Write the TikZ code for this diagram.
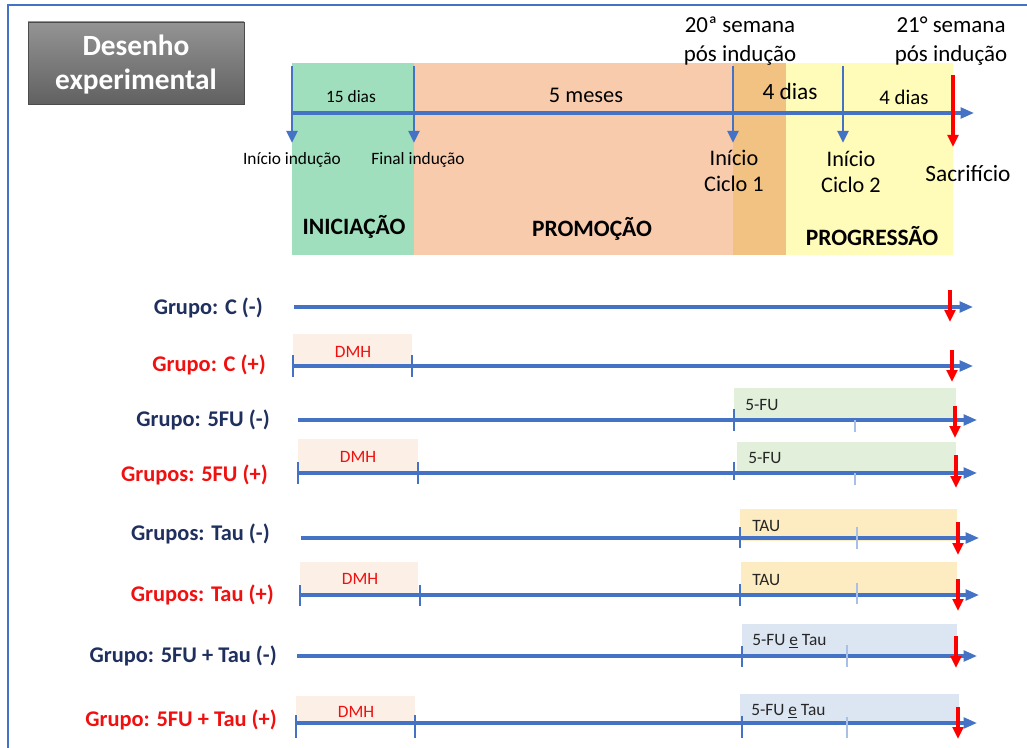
\documentclass[tikz,border=0pt]{standalone}
\usepackage{fontspec}
\setmainfont{Carlito}
\usetikzlibrary{arrows.meta}
\definecolor{blueL}{HTML}{4472C4}
\definecolor{blueT}{HTML}{A9C0E6}
\definecolor{navy}{HTML}{1F2F5E}
\definecolor{redA}{HTML}{FF0000}
\definecolor{redT}{HTML}{F01010}
\definecolor{cGreen}{HTML}{A0DFBD}
\definecolor{cSalmon}{HTML}{F8CBAD}
\definecolor{cOrange}{HTML}{F2C283}
\definecolor{cYellow}{HTML}{FFFBB9}
\definecolor{cDMH}{HTML}{FBEFE6}
\definecolor{cFU}{HTML}{E2EFDA}
\definecolor{cTAU}{HTML}{FDEBC2}
\definecolor{cMix}{HTML}{DCE6F2}
\begin{document}
\begin{tikzpicture}[x=0.75pt,y=-0.75pt,
 tl/.style={draw=blueL,line width=2.3pt,-{Triangle[length=10pt,width=8pt]}},
 tickmark/.style={draw=blueL,line width=2.2pt},
 ltick/.style={draw=blueT,line width=1pt},
 redarr/.style={draw=redA,line width=2.6pt,-{Triangle[length=9pt,width=8pt]}},
 bluedown/.style={draw=blueL,line width=2.2pt,-{Triangle[length=9pt,width=8pt]}},
 grp/.style={font=\bfseries\fontsize{16.8}{18}\selectfont, anchor=east, inner sep=0pt},
 neggrp/.style={grp,text=navy},
 posgrp/.style={grp,text=redT},
 dmh/.style={font=\fontsize{13}{14}\selectfont,text=redT,inner sep=0pt},
 trt/.style={font=\fontsize{13}{14}\selectfont,text=black!85,inner sep=0pt,anchor=west},
 phase/.style={font=\bfseries\fontsize{17.6}{19}\selectfont,inner sep=0pt},
 toplab/.style={font=\fontsize{17.2}{21.75}\selectfont,align=center,inner sep=0pt},
 mid/.style={font=\fontsize{16.7}{19.5}\selectfont,align=center,inner sep=0pt},
 small/.style={font=\fontsize{13}{14}\selectfont,inner sep=0pt}]
\useasboundingbox (0,0) rectangle (1027,748);
\fill[white] (0,0) rectangle (1027,748);
\draw[blueL,line width=1pt] (8,748) -- (8,5) -- (1027,5);

% title box
\shade[top color=black!42,bottom color=black!62,draw=black!70,line width=0.6pt] (28,22) rectangle (244,104);
\node[font=\bfseries\fontsize{22}{25.5}\selectfont,text=white,align=center,inner sep=0pt] (title) at (136,65) {Desenho\\experimental};

% phase blocks
\fill[cGreen] (292,63) rectangle (414,255);
\fill[cSalmon] (414,63) rectangle (733,255);
\fill[cOrange] (733,63) rectangle (786,255);
\fill[cYellow] (786,63) rectangle (953,255);

% main timeline
\coordinate (m0) at (292,113);
\coordinate (m1) at (974,113);
\draw[tl] (m0) -- (m1);
\coordinate (d1a) at (292,66); \coordinate (d1b) at (292,143);
\coordinate (d2a) at (414,66); \coordinate (d2b) at (414,143);
\coordinate (d3a) at (733,66); \coordinate (d3b) at (733,143);
\coordinate (d4a) at (843,66); \coordinate (d4b) at (843,143);
\coordinate (d5a) at (953,75); \coordinate (d5b) at (953,147);
\draw[bluedown] (d1a) -- (d1b);
\draw[bluedown] (d2a) -- (d2b);
\draw[bluedown] (d3a) -- (d3b);
\draw[bluedown] (d4a) -- (d4b);
\draw[redarr] (d5a) -- (d5b);

\node[small] (l15) at (351,97) {15 dias};
\node[font=\fontsize{16.8}{18}\selectfont,inner sep=0pt] (l5m) at (586,95) {5 meses};
\node[font=\fontsize{17.5}{18}\selectfont,inner sep=0pt] (l4a) at (790,91) {4 dias};
\node[font=\fontsize{15.6}{17}\selectfont,inner sep=0pt] (l4b) at (904,97) {4 dias};
\node[small] (lini) at (292,160) {Início indução};
\node[small] (lfin) at (418,160) {Final indução};
\node[mid] (lc1) at (734,171) {Início\\Ciclo 1};
\node[mid] (lc2) at (851,172) {Início\\Ciclo 2};
\node[mid,font=\fontsize{17.5}{19.5}\selectfont] (lsac) at (968,174) {Sacrifício};
\node[toplab] (w20) at (740,41) {20ª semana\\pós indução};
\node[toplab] (w21) at (951,41) {21° semana\\pós indução};
\node[phase] (pI) at (354,227) {INICIAÇÃO};
\node[phase] (pP) at (592,229) {PROMOÇÃO};
\node[phase] (pG) at (872,236) {PROGRESSÃO};

% ---------- row 1
\node[neggrp] (g1) at (263,308) {Grupo: C (-)};
\coordinate (s1) at (294,307); \coordinate (e1) at (973,307);
\draw[tl] (s1) -- (e1);
\coordinate (r1a) at (950,290); \coordinate (r1b) at (950,322);
\draw[redarr] (r1a) -- (r1b);

% ---------- row 2
\node[posgrp] (g2) at (266,365) {Grupo: C (+)};
\fill[cDMH] (293,334) rectangle (412,366);
\node[dmh] (m2) at (353,352) {DMH};
\coordinate (s2) at (293,366); \coordinate (e2) at (973,366);
\draw[tl] (s2) -- (e2);
\draw[tickmark] (293,355) -- (293,377);
\draw[tickmark] (412,355) -- (412,377);
\coordinate (r2a) at (952,350); \coordinate (r2b) at (952,382);
\draw[redarr] (r2a) -- (r2b);

% ---------- row 3
\node[neggrp] (g3) at (270,420) {Grupo: 5FU (-)};
\fill[cFU] (734,388) rectangle (956,420);
\node[trt] (t3) at (745,405) {5-FU};
\coordinate (s3) at (298,420); \coordinate (e3) at (977,420);
\draw[tl] (s3) -- (e3);
\draw[tickmark] (734,409) -- (734,431);
\draw[ltick] (855,420) -- (855,432);
\coordinate (r3a) at (955,406); \coordinate (r3b) at (955,438);
\draw[redarr] (r3a) -- (r3b);

% ---------- row 4
\node[posgrp] (g4) at (268,475) {Grupos: 5FU (+)};
\fill[cDMH] (298,439) rectangle (418,472);
\node[dmh] (m4) at (358,457) {DMH};
\fill[cFU] (737,442) rectangle (956,473);
\node[trt] (t4) at (748,458) {5-FU};
\coordinate (s4) at (298,473); \coordinate (e4) at (977,473);
\draw[tl] (s4) -- (e4);
\draw[tickmark] (298,462) -- (298,484);
\draw[tickmark] (418,462) -- (418,484);
\draw[tickmark] (734,462) -- (734,480);
\draw[ltick] (855,473) -- (855,485);
\coordinate (r4a) at (956,455); \coordinate (r4b) at (956,488);
\draw[redarr] (r4a) -- (r4b);

% ---------- row 5
\node[neggrp] (g5) at (270,534) {Grupos: Tau (-)};
\fill[cTAU] (740,509) rectangle (957,541);
\node[trt] (t5) at (752,526) {TAU};
\coordinate (s5) at (301,538); \coordinate (e5) at (979,538);
\draw[tl] (s5) -- (e5);
\draw[tickmark] (740,527) -- (740,548);
\draw[ltick] (857,527) -- (857,549);
\coordinate (r5a) at (958,522); \coordinate (r5b) at (958,555);
\draw[redarr] (r5a) -- (r5b);

% ---------- row 6
\node[posgrp] (g6) at (274,595) {Grupos: Tau (+)};
\fill[cDMH] (300,562) rectangle (418,593);
\node[dmh] (m6) at (360,579) {DMH};
\fill[cTAU] (741,562) rectangle (957,594);
\node[trt] (t6) at (752,580) {TAU};
\coordinate (s6) at (300,595); \coordinate (e6) at (979,595);
\draw[tl] (s6) -- (e6);
\draw[tickmark] (300,585) -- (300,606);
\draw[tickmark] (420,585) -- (420,606);
\draw[tickmark] (740,584) -- (740,606);
\draw[ltick] (857,583) -- (857,604);
\coordinate (r6a) at (958,579); \coordinate (r6b) at (958,611);
\draw[redarr] (r6a) -- (r6b);

% ---------- row 7
\node[neggrp] (g7) at (277,656) {Grupo: 5FU + Tau (-)};
\fill[cMix] (742,624) rectangle (957,656);
\node[trt] (t7) at (752,641) {5-FU \underline{e} Tau};
\coordinate (s7) at (297,656); \coordinate (e7) at (977,656);
\draw[tl] (s7) -- (e7);
\draw[tickmark] (742,646) -- (742,667);
\draw[ltick] (847,645) -- (847,667);
\coordinate (r7a) at (956,636); \coordinate (r7b) at (956,668);
\draw[redarr] (r7a) -- (r7b);

% ---------- row 8
\node[posgrp] (g8) at (277,720) {Grupo: 5FU + Tau (+)};
\fill[cDMH] (296,696) rectangle (415,721);
\node[dmh] (m8) at (356,712) {DMH};
\fill[cMix] (740,694) rectangle (959,724);
\node[trt] (t8) at (751,711) {5-FU \underline{e} Tau};
\coordinate (s8) at (296,723); \coordinate (e8) at (977,723);
\draw[tl] (s8) -- (e8);
\draw[tickmark] (296,715) -- (296,738);
\draw[tickmark] (415,715) -- (415,738);
\draw[tickmark] (742,716) -- (742,738);
\draw[ltick] (847,717) -- (847,738);
\coordinate (r8a) at (958,707); \coordinate (r8b) at (958,739);
\draw[redarr] (r8a) -- (r8b);
\end{tikzpicture}
\end{document}
